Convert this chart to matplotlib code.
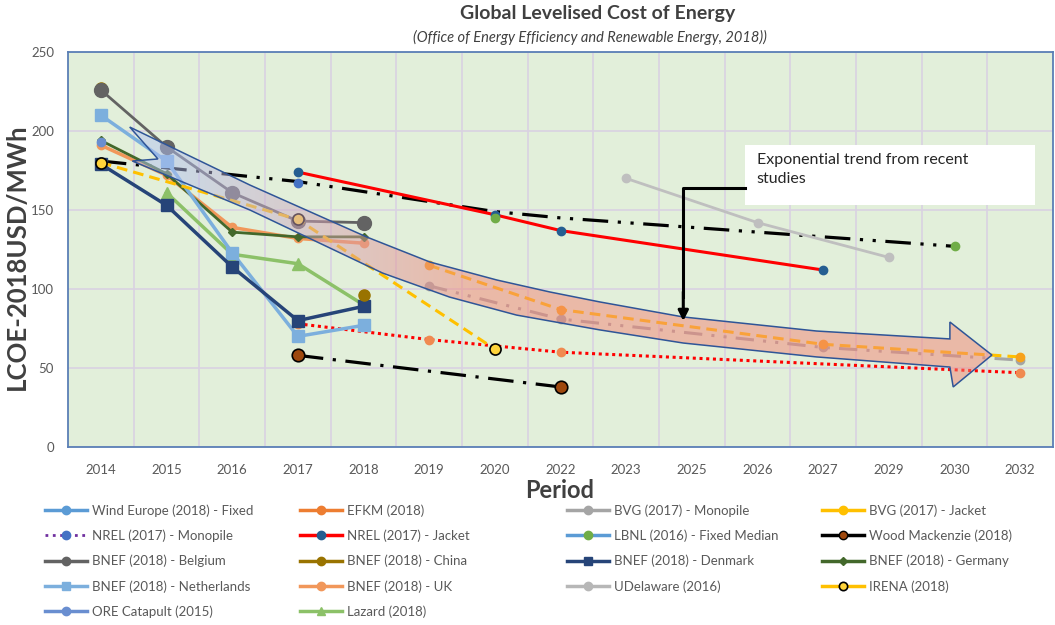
import numpy as np
import matplotlib.pyplot as plt
from matplotlib.patches import Polygon, Rectangle
from matplotlib.lines import Line2D

plt.rcParams['font.family'] = ['Lato', 'DejaVu Sans']

periods = ['2014', '2015', '2016', '2017', '2018', '2019', '2020', '2022',
           '2023', '2025', '2026', '2027', '2029', '2030', '2032']
n = None

# BNEF (2018) country estimates, 2014-2018
belgium = [226, 190, 161, 143, 142, n, n, n, n, n, n, n, n, n, n]
china = [227, n, n, n, 96, n, n, n, n, n, n, n, n, n, n]
denmark = [179, 153, 114, 80, 89, n, n, n, n, n, n, n, n, n, n]
germany = [194, 173, 136, 133, 133, n, n, n, n, n, n, n, n, n, n]
netherlands = [210, 181, 123, 70, 77, n, n, n, n, n, n, n, n, n, n]
uk = [191, 172, 139, 132, 129, n, n, n, n, n, n, n, n, n, n]
ore_catapult = [193, n, n, n, n, n, n, n, n, n, n, n, n, n, n]
lazard = [n, 161, 122, 116, 90, n, n, n, n, n, n, n, n, n, n]
irena = [180, n, n, 144, n, n, 62, n, n, n, n, n, n, n, n]
wind_europe = [n, n, n, 167, n, n, n, n, n, n, n, n, n, n, n]

# projections
bvg_jacket = [n, n, n, n, n, 115, n, 87, n, n, n, 65, n, n, 57]
bvg_monopile = [n, n, n, n, n, 102, n, 81, n, n, n, 63, n, n, 55]
nrel_monopile = [n, n, n, 78, n, 68, n, 60, n, n, n, n, n, n, 47]
nrel_jacket = [n, n, n, 174, n, n, 147, 137, n, n, n, 112, n, n, n]
lbnl = [n, n, n, n, n, n, 145, n, n, n, n, n, n, 127, n]
lbnl_trend = [181, n, n, 168, n, n, 149, 145, n, 139, n, n, n, 127, n]
wood_mackenzie = [n, n, n, 58, n, n, n, 38, n, n, n, n, n, n, n]
udelaware = [n, n, n, n, n, n, n, n, 170, n, 142, n, 120, n, n]

fig = plt.figure(figsize=(10.55, 6.25), dpi=100)
ax = fig.add_axes([68/1055, 1-447/625, 985/1055, 395/625])
ax.set_facecolor('#E2EFDA')


def draw(vals, connect=True, **kw):
    y = np.array([np.nan if v is None else v for v in vals], dtype=float)
    x = np.arange(len(y))
    if connect:
        m = ~np.isnan(y)
        x, y = x[m], y[m]
    ax.plot(x, y, **kw)


lw = 2.0
draw(lbnl_trend, color='black', lw=2.3, ls=(0, (8, 3, 1, 3, 1, 3)), zorder=3)
draw(wood_mackenzie, color='black', lw=2.3, ls=(0, (8, 3, 1, 3)), marker='o', ms=9,
     mfc='#9E480E', mec='black', mew=1.2, zorder=3)
draw(udelaware, color='#BFBFBF', lw=lw, marker='o', ms=6, zorder=3)
draw(nrel_jacket, color='#FF0000', lw=2.2, marker='o', ms=6, mfc='#255E91', mec='#255E91', zorder=3)
draw(lbnl, color='none', marker='o', ms=6, mfc='#70AD47', mec='#70AD47', zorder=4)
draw(wind_europe, color='none', marker='o', ms=6, mfc='#4472C4', mec='#4472C4', zorder=3)
draw(nrel_monopile, color='#FF0000', lw=2.2, ls=(0, (1, 1.2)), marker='o', ms=6,
     mfc='#F08A50', mec='#F08A50', zorder=3)
draw(bvg_monopile, color='#A5A5A5', lw=2.2, ls=(0, (6, 3, 1, 3, 1, 3)), marker='o', ms=6,
     mfc='#A5A5A5', mec='#A5A5A5', zorder=3)
draw(bvg_jacket, color='#FFC000', lw=2.2, ls=(0, (3.5, 2)), marker='o', ms=6,
     mfc='#F7A21B', mec='#F7A21B', zorder=3)
draw(uk, color='#F1975A', lw=2.5, marker='o', ms=6, zorder=3)
draw(germany, color='#43682B', lw=lw, marker='D', ms=4, zorder=3)
draw(lazard, color='#8CC168', lw=2.5, marker='^', ms=8, zorder=3)
draw(netherlands, color='#7CAFDD', lw=2.5, marker='s', ms=8, zorder=3)
draw(denmark, color='#264478', lw=2.5, marker='s', ms=8, zorder=3)
draw(china, connect=False, color='#997300', lw=lw, marker='o', ms=8, zorder=3)
draw(belgium, color='#636363', lw=lw, marker='o', ms=10, zorder=3)
draw(ore_catapult, color='#698ED0', lw=lw, marker='o', ms=6, zorder=3)
draw(irena, color='#FFC000', lw=2.2, ls=(0, (3.5, 2)), marker='o', ms=8,
     mfc='#FFD43B', mec='black', mew=1.2, zorder=4)

# trend band (curved block arrow) in category/value coordinates
band = [(0.44, 202.5), (2.27, 165.8), (4.05, 132.9), (5.01, 117.1), (6.03, 105.7),
        (6.84, 98.1), (7.60, 91.8), (8.87, 82.3), (10.90, 73.4), (12.93, 68.4),
        (12.93, 79.1), (13.57, 58.2), (12.98, 38.0), (12.93, 50.6), (10.90, 57.0),
        (8.87, 65.8), (7.60, 74.1), (6.33, 83.5), (5.31, 94.9), (4.29, 110.1),
        (2.27, 150.0), (0.48, 181.0), (0.87, 182.3)]
poly = Polygon(band, closed=True, facecolor='none', edgecolor='#2F5597', lw=1.1, zorder=6)
ax.add_patch(poly)
gx = np.linspace(0, 1, 300)
t = np.clip((gx - 0.05) / 0.35, 0, 1)
c0 = np.array([0.70, 0.76, 0.95])
c1 = np.array([0.96, 0.52, 0.46])
rgb = c0[None, :] * (1 - t[:, None]) + c1[None, :] * t[:, None]
img = np.concatenate([rgb, np.full((300, 1), 0.5)], axis=1)[None, :, :]
im = ax.imshow(img, extent=(0.4, 13.6, 35, 205), aspect='auto', zorder=5, interpolation='bilinear')
im.set_clip_path(poly)

# annotation
ax.add_patch(Rectangle((9.81, 153.2), 4.41, 37.9, facecolor='white', edgecolor='none', zorder=7))
ax.text(9.99, 186, 'Exponential trend from recent\nstudies', fontsize=11.5, color='#262626',
        va='top', ha='left', linespacing=1.45, zorder=8)
ax.plot([9.81, 8.87, 8.87], [163.9, 163.9, 95], color='black', lw=2.2, zorder=8)
ax.annotate('', xy=(8.87, 78), xytext=(8.87, 100),
            arrowprops=dict(arrowstyle='-|>,head_length=0.6,head_width=0.3', color='black', lw=2.2),
            zorder=8)

ax.set_xlim(-0.5, len(periods) - 0.5)
ax.set_ylim(0, 250)
ax.set_xticks(range(len(periods)))
ax.set_xticklabels(periods)
ax.set_yticks(range(0, 251, 50))
ax.set_xticks(np.arange(0.5, len(periods) - 1, 1), minor=True)
ax.grid(axis='y', which='major', color='#D9D2E2', lw=1.2, zorder=0)
ax.grid(axis='x', which='minor', color='#D9D2E2', lw=1.2, zorder=0)
ax.set_axisbelow(True)
ax.tick_params(which='both', length=0, labelsize=9.5, labelcolor='#595959')
ax.tick_params(axis='x', pad=12)
ax.tick_params(axis='y', pad=10)
for s in ax.spines.values():
    s.set_color('#5A7FB5')
    s.set_linewidth(1.3)

fig.text(598/1055, 1-14/625, 'Global Levelised Cost of Energy', ha='center', va='center',
         fontsize=14, fontweight='bold', color='#404040')
fig.text(590/1055, 1-37/625, '(Office of Energy Efficiency and Renewable Energy, 2018))',
         ha='center', va='center', fontsize=10.5, style='italic', color='#404040')
fig.text(17/1055, 1-257/625, 'LCOE-2018USD/MWh', rotation=90, ha='center', va='center',
         fontsize=18.5, fontweight='bold', color='#404040')
fig.text(560/1055, 1-490/625, 'Period', ha='center', va='center',
         fontsize=17, fontweight='bold', color='#404040')


def h(color, marker='o', ms=6, mfc=None, mec=None, ls='-', lw=2.5, mew=1):
    return Line2D([], [], color=color, lw=lw, ls=ls, marker=marker, ms=ms,
                  mfc=mfc or color, mec=mec or mfc or color, mew=mew)


columns = [
    [(h('#5B9BD5'), 'Wind Europe (2018) - Fixed'),
     (h('#7030A0', mfc='#4472C4', ls=':', lw=2), 'NREL (2017) - Monopile'),
     (h('#636363'), 'BNEF (2018) - Belgium'),
     (h('#7CAFDD', marker='s'), 'BNEF (2018) - Netherlands'),
     (h('#698ED0'), 'ORE Catapult (2015)')],
    [(h('#ED7D31'), 'EFKM (2018)'),
     (h('#FF0000', mfc='#255E91'), 'NREL (2017) - Jacket'),
     (h('#997300'), 'BNEF (2018) - China'),
     (h('#F1975A'), 'BNEF (2018) - UK'),
     (h('#8CC168', marker='^'), 'Lazard (2018)')],
    [(h('#A5A5A5'), 'BVG (2017) - Monopile'),
     (h('#5B9BD5', mfc='#70AD47'), 'LBNL (2016) - Fixed Median'),
     (h('#264478', marker='s'), 'BNEF (2018) - Denmark'),
     (h('#B7B7B7'), 'UDelaware (2016)')],
    [(h('#FFC000'), 'BVG (2017) - Jacket'),
     (h('black', mfc='#9E480E', mec='black'), 'Wood Mackenzie (2018)'),
     (h('#43682B', marker='D', ms=4), 'BNEF (2018) - Germany'),
     (h('#FFC000', mfc='#FFD43B', mec='black', mew=1.2), 'IRENA (2018)')],
]
col_x = [45, 300, 567, 822]
for cx, entries in zip(col_x, columns):
    leg = fig.legend([e[0] for e in entries], [e[1] for e in entries],
                     loc='upper left', bbox_to_anchor=(cx/1055, 1-504/625),
                     frameon=False, fontsize=9.5, handlelength=3.2, handletextpad=0.35,
                     labelspacing=0.97, borderpad=0, borderaxespad=0)
    for txt in leg.get_texts():
        txt.set_color('#595959')

fig.savefig('out.png', dpi=100)
